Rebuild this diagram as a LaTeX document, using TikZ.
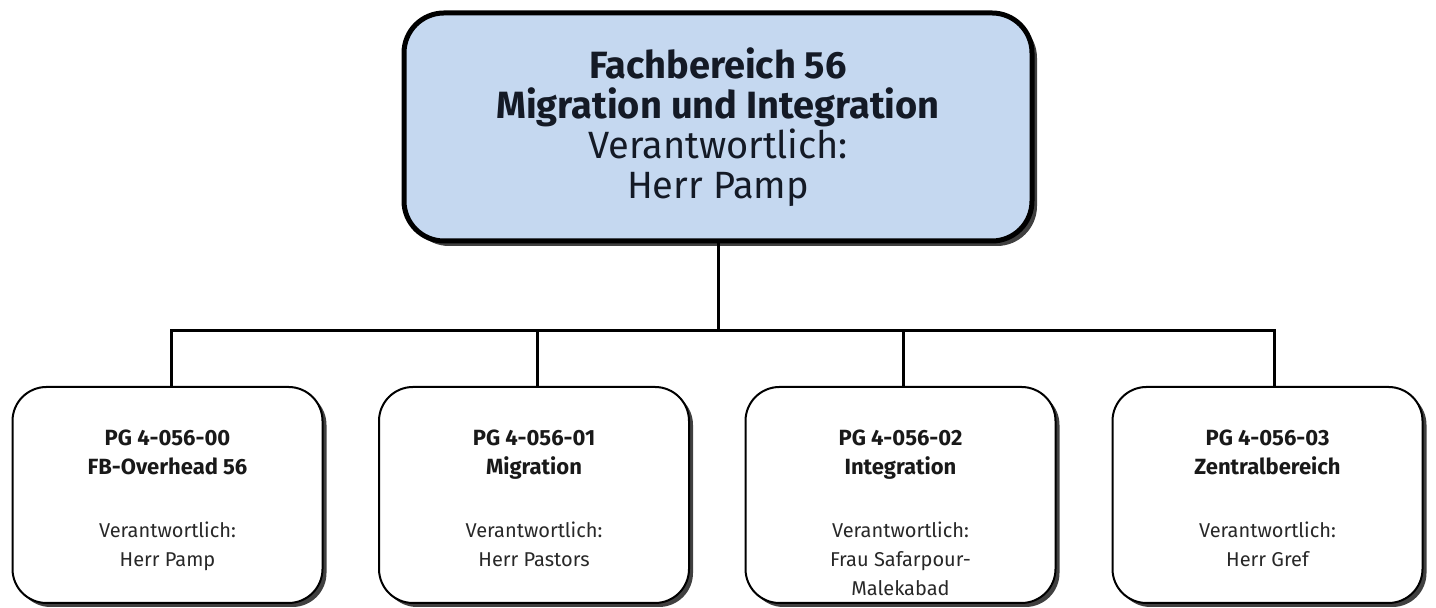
\documentclass[tikz,border=0pt]{standalone}
\usepackage{fontspec}
\setmainfont{Fira Sans}
\usetikzlibrary{positioning,shadows}
\definecolor{fbblue}{RGB}{197,216,240}
\definecolor{fbtext}{RGB}{20,26,38}
\definecolor{pgtext}{RGB}{40,40,40}
\tikzset{
  fbbox/.style={draw=black, line width=2.5pt, rounded corners=20pt, fill=fbblue,
    minimum width=314pt, minimum height=114pt, align=center, text=fbtext,
    font=\fontsize{19}{20}\selectfont,
    drop shadow={shadow xshift=2.5pt, shadow yshift=-2.5pt, fill=black, opacity=0.75}},
  pgbox/.style={draw=black, line width=1pt, rounded corners=17pt, fill=white,
    minimum width=155pt, minimum height=108pt,
    drop shadow={shadow xshift=2pt, shadow yshift=-2pt, fill=black, opacity=0.75}},
  pglabel/.style={align=center, anchor=north, inner sep=0pt, text=pgtext,
    font=\fontsize{10}{14.5}\selectfont},
  pghead/.style={font=\fontsize{11}{14.5}\selectfont\bfseries},
  link/.style={line width=1.5pt, draw=black}
}
\newcommand{\pghd}[1]{{\fontsize{11}{14.5}\selectfont\bfseries\color{black!90}#1}}

\begin{document}
\begin{tikzpicture}[x=0.5pt,y=0.5pt]
      \useasboundingbox (0,0) rectangle (1436,608);
      % Fachbereich
      \node[fbbox] (fb) at (718,481) {\textbf{Fachbereich 56}\\ \textbf{Migration und Integration}\\ Verantwortlich:\\ Herr Pamp};
      % Produktgruppen
      \node[pgbox] (pg00) at (167.5,113) {};
      \node[pgbox] (pg01) at (534,113) {};
      \node[pgbox] (pg02) at (900.5,113) {};
      \node[pgbox] (pg03) at (1267.5,113) {};
      \node[pglabel] (pg00txt) at ([yshift=-21.5pt]pg00.north) {\pghd{PG 4-056-00}\\ \pghd{FB-Overhead 56}\\[17pt] Verantwortlich:\\ Herr Pamp};
      \node[pglabel] (pg01txt) at ([yshift=-21.5pt]pg01.north) {\pghd{PG 4-056-01}\\ \pghd{Migration}\\[17pt] Verantwortlich:\\ Herr Pastors};
      \node[pglabel] (pg02txt) at ([yshift=-21.5pt]pg02.north) {\pghd{PG 4-056-02}\\ \pghd{Integration}\\[17pt] Verantwortlich:\\ Frau Safarpour-\\ Malekabad};
      \node[pglabel] (pg03txt) at ([yshift=-21.5pt]pg03.north) {\pghd{PG 4-056-03}\\ \pghd{Zentralbereich}\\[17pt] Verantwortlich:\\ Herr Gref};
      % Verbindungen
      \coordinate (hub) at (718,277);
      \draw[link] (fb.south) -- (hub);
      \draw[link] (hub) -| ([xshift=2pt]pg00.north);
      \draw[link] (hub) -| ([xshift=1.5pt]pg01.north);
      \draw[link] (hub) -| ([xshift=1.5pt]pg02.north);
      \draw[link] (hub) -| ([xshift=3.5pt]pg03.north);
\end{tikzpicture}
\end{document}
